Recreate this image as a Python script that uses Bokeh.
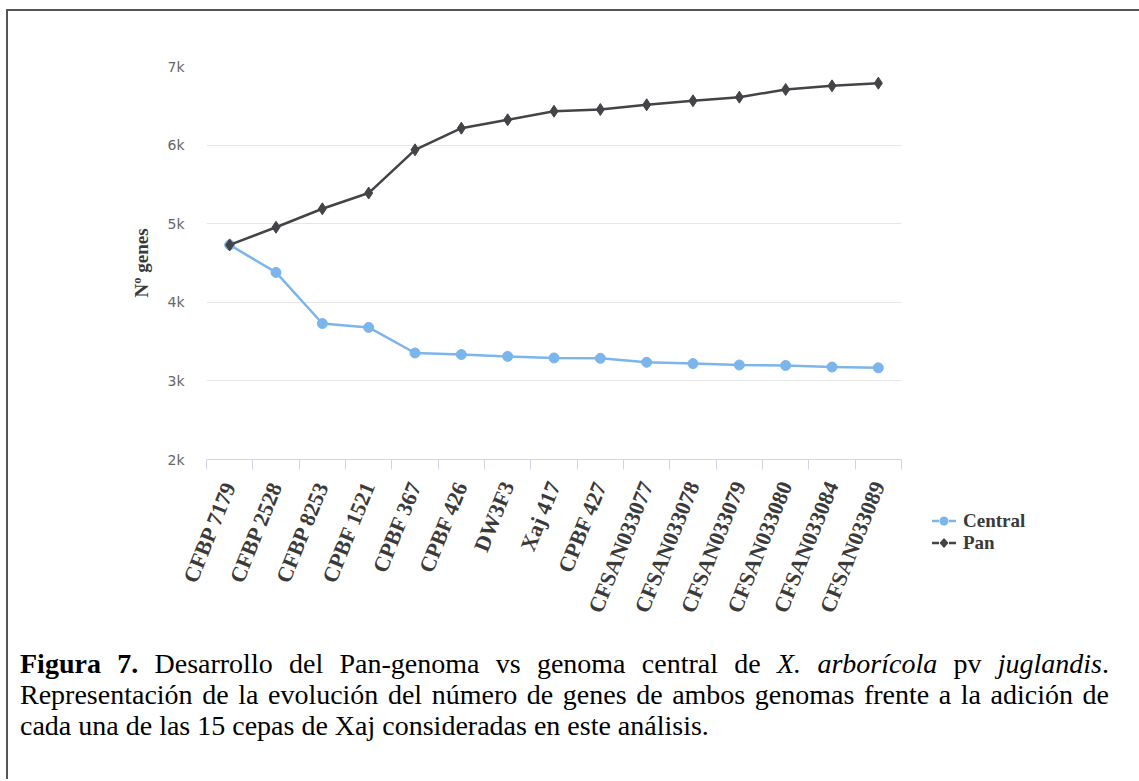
import math
from bokeh.plotting import figure
from bokeh.layouts import column, row
from bokeh.models import Range1d, FixedTicker, Div
from bokeh.embed import file_html
from bokeh.resources import INLINE

# ---------------- data ----------------
strains = ["CFBP 7179", "CFBP 2528", "CFBP 8253", "CPBF 1521", "CPBF 367",
           "CPBF 426", "DW3F3", "Xaj 417", "CPBF 427", "CFSAN033077",
           "CFSAN033078", "CFSAN033079", "CFSAN033080", "CFSAN033084", "CFSAN033089"]
central = [4730, 4380, 3730, 3680, 3355, 3335, 3312, 3292, 3287, 3237,
           3220, 3202, 3196, 3176, 3166]
pan = [4730, 4955, 5190, 5390, 5940, 6215, 6322, 6431, 6453, 6513,
       6564, 6610, 6707, 6754, 6788]
y_ticks = [2000, 3000, 4000, 5000, 6000, 7000]
y_tick_labels = ["2k", "3k", "4k", "5k", "6k", "7k"]
y_title = "Nº genes"
series_names = ["Central", "Pan"]
series_colors = ["#7cb5ec", "#434348"]
caption_lines = [
    "<b>Figura 7.</b> Desarrollo del Pan-genoma vs genoma central de "
    "<i>X. arborícola</i> pv <i>juglandis</i>.",
    "Representación de la evolución del número de genes de ambos genomas "
    "frente a la adición de",
    "cada una de las 15 cepas de Xaj consideradas en este análisis.",
]

SERIF = "Liberation Serif"

# ---------------- chart figure ----------------
W, H = 920, 635
p = figure(width=W, height=H, title=None, x_range=Range1d(0, len(strains)),
           y_range=Range1d(y_ticks[0], y_ticks[-1]),
           min_border_left=198, min_border_right=27,
           min_border_top=55, min_border_bottom=187,
           output_backend="svg", toolbar_location=None)
p.outline_line_color = None
p.background_fill_color = "white"
p.border_fill_color = "white"

xs = [i + 0.5 for i in range(len(strains))]

# y axis
p.yaxis.ticker = FixedTicker(ticks=y_ticks)
p.yaxis.major_label_overrides = {t: l for t, l in zip(y_ticks, y_tick_labels)}
p.yaxis.axis_line_color = None
p.yaxis.major_tick_line_color = None
p.yaxis.minor_tick_line_color = None
p.yaxis.major_tick_out = 0
p.yaxis.major_label_standoff = 22
p.yaxis.major_label_text_color = "#666666"
p.yaxis.major_label_text_font = "DejaVu Sans"
p.yaxis.major_label_text_font_size = "14px"
p.yaxis.axis_label = y_title
p.yaxis.axis_label_text_font = SERIF
p.yaxis.axis_label_text_font_style = "bold"
p.yaxis.axis_label_text_font_size = "19px"
p.yaxis.axis_label_text_color = "#3a3a3a"
p.yaxis.axis_label_standoff = 12

p.ygrid.ticker = FixedTicker(ticks=y_ticks)
p.ygrid.grid_line_color = "#e6e6e6"
p.xgrid.grid_line_color = None

# x axis: labels at category centres, tick marks at category boundaries
p.xaxis.ticker = FixedTicker(ticks=xs, minor_ticks=list(range(len(strains) + 1)))
p.xaxis.major_label_overrides = {x: s for x, s in zip(xs, strains)}
p.xaxis.axis_line_color = "#ccd6eb"
p.xaxis.major_tick_line_color = None
p.xaxis.major_tick_out = 0
p.xaxis.major_tick_in = 0
p.xaxis.minor_tick_line_color = "#ccd6eb"
p.xaxis.minor_tick_out = 10
p.xaxis.minor_tick_in = 0
p.xaxis.major_label_orientation = math.radians(68)
p.xaxis.major_label_standoff = 13
p.xaxis.major_label_text_font = SERIF
p.xaxis.major_label_text_font_style = "bold"
p.xaxis.major_label_text_font_size = "22px"
p.xaxis.major_label_text_color = "#3a3a3a"

# series
p.line(xs, central, line_color=series_colors[0], line_width=2.5)
p.scatter(xs, central, marker="circle", size=10, fill_color=series_colors[0],
          line_color=series_colors[0])
p.line(xs, pan, line_color=series_colors[1], line_width=2.5)
p.scatter(xs, pan, marker="diamond", size=12, fill_color=series_colors[1],
          line_color=series_colors[1])

# ---------------- legend (outside the plot frame) ----------------
sym_circle = ("<svg width='24' height='20' style='display:block'>"
              "<line x1='0' y1='10' x2='7' y2='10' stroke='{c}' stroke-width='2.5'/>"
              "<line x1='17' y1='10' x2='24' y2='10' stroke='{c}' stroke-width='2.5'/>"
              "<circle cx='12' cy='10' r='4.5' fill='{c}'/></svg>")
sym_diamond = ("<svg width='24' height='20' style='display:block'>"
               "<line x1='0' y1='10' x2='7' y2='10' stroke='{c}' stroke-width='2.5'/>"
               "<line x1='17' y1='10' x2='24' y2='10' stroke='{c}' stroke-width='2.5'/>"
               "<polygon points='12,5 16.5,10 12,15 7.5,10' fill='{c}'/></svg>")
symbols = [sym_circle, sym_diamond]
rows_html = ""
for k, (name, col, sym) in enumerate(zip(series_names, series_colors, symbols)):
    rows_html += (
        f"<div style='position:absolute;left:4px;top:{500 + 22 * k}px;height:20px;"
        "display:flex;align-items:center;'>"
        f"{sym.format(c=col)}<span style='margin-left:7px'>{name}</span></div>"
    )
legend_div = Div(
    text=("<div style=\"position:relative;width:211px;height:635px;"
          "font-family:'Liberation Serif';font-weight:bold;font-size:19px;"
          "color:#3a3a3a;line-height:20px;\">" + rows_html + "</div>"),
    width=211, height=H, margin=0)

# ---------------- caption ----------------
just = "text-align:justify;text-align-last:justify;white-space:nowrap;"
html = (
    "<div style=\"font-family:'Liberation Serif';font-size:28px;line-height:31px;"
    "color:#000;padding:2px 0 0 12px;width:1101px;\">"
    f"<div style=\"{just}\">{caption_lines[0]}</div>"
    f"<div style=\"{just}\">{caption_lines[1]}</div>"
    f"<div style=\"white-space:nowrap;\">{caption_lines[2]}</div>"
    "</div>"
)
cap = Div(text=html, width=1131, height=133, margin=0)

layout = column(row(p, legend_div, spacing=0), cap, spacing=0, margin=(9, 0, 0, 6),
                styles={"border-top": "2px solid #555555",
                        "border-left": "2px solid #555555"})

open("out.html", "w").write(file_html(layout, INLINE))
